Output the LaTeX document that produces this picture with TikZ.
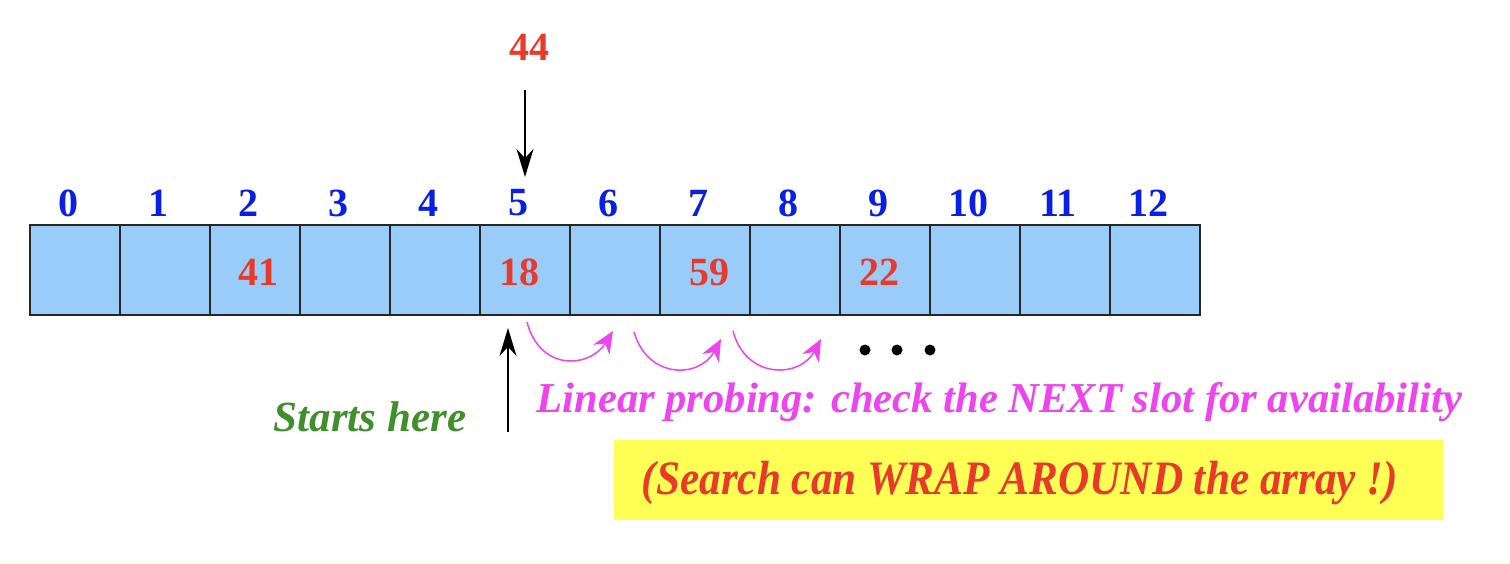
\documentclass[tikz,border=0pt]{standalone}
\usepackage{fontspec}
\setmainfont{Liberation Serif}
\usetikzlibrary{arrows.meta}
\definecolor{cellblue}{HTML}{99CCF8}
\definecolor{idxblue}{HTML}{0A1FE6}
\definecolor{keyred}{HTML}{E8392A}
\definecolor{startgreen}{HTML}{3F8F2A}
\definecolor{probemag}{HTML}{EE44EE}
\definecolor{notebox}{HTML}{FFFF55}
\definecolor{stripcream}{HTML}{FFFFE6}
\tikzset{
  cell/.style={draw=black!85,line width=1.6pt,fill=cellblue,minimum width=90pt,minimum height=90pt,inner sep=0pt},
  idx/.style={text=idxblue,font=\fontsize{40}{40}\selectfont\bfseries},
  key/.style={text=keyred,font=\fontsize{40}{40}\selectfont\bfseries},
  arr/.style={line width=2pt,-{Stealth[length=28pt,width=17pt]}},
  probe/.style={draw=probemag,line width=1.5pt,-{Stealth[length=22pt,width=19pt]}},
}
\begin{document}
\begin{tikzpicture}[x=1pt,y=-1pt]
  \useasboundingbox (0,0) rectangle (1510,564);
  \fill[white] (0,0) rectangle (1510,564);
  \fill[stripcream] (0,561) rectangle (1510,564);
  % the table
  \foreach \i in {0,...,12}{
    \node[cell] (c\i) at (75+90*\i,270) {};
    \node[idx] (i\i) at (68+90*\i,203) {\i};
  }
  \node[key] (k2) at (258,272) {41};
  \node[key] (k5) at (519,272) {18};
  \node[key] (k7) at (709,272) {59};
  \node[key] (k9) at (879,272) {22};
  % the new key
  \node[key] (new) at (529,47) {44};
  \coordinate (drop) at (525,90);
  \coordinate (hit) at (525,177);
  \draw[arr] (drop) -- (hit);
  % where the search starts
  \coordinate (start) at (508,432);
  \coordinate (up) at (508,328);
  \draw[arr] (start) -- (up);
  \node[text=startgreen,font=\fontsize{43}{43}\selectfont\bfseries\itshape] (starts) at (370,417) {Starts here};
  % probing steps
  \coordinate (p0) at (527,322);
  \coordinate (p1) at (613,331);
  \coordinate (p2) at (634,332);
  \coordinate (p3) at (721,339);
  \coordinate (p4) at (733,331);
  \coordinate (p5) at (821,339);
  \draw[probe] (p0) .. controls (540,372) and (590,368) .. (p1);
  \draw[probe] (p2) .. controls (648,380) and (700,378) .. (p3);
  \draw[probe] (p4) .. controls (746,380) and (800,378) .. (p5);
  \foreach \x/\n in {865/d1,897/d2,930/d3}
    \fill (\x,350) circle (5.5pt) coordinate (\n);
  \node[anchor=base west,text=probemag,font=\fontsize{42.6}{42.6}\selectfont\bfseries\itshape] (rule) at (533,412) {Linear probing: check the NEXT slot for availability};
  % the note
  \node[fill=notebox,minimum width=829pt,minimum height=80pt,inner sep=0pt] (note) at (1028.5,480) {};
  \node[text=keyred,xscale=0.9,font=\fontsize{48}{48}\selectfont\bfseries\itshape] (wrap) at (1020,483) {(Search can WRAP AROUND the array !)};
\end{tikzpicture}
\end{document}
